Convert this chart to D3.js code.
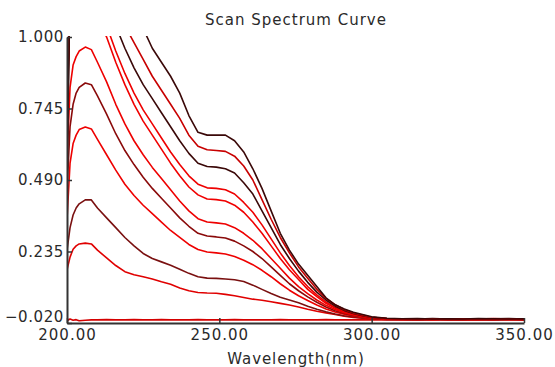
<!DOCTYPE html>
<html>
<head>
<meta charset="utf-8">
<script src="https://cdn.jsdelivr.net/npm/d3@7"></script>
<style>
  body { margin: 0; background: #fff; }
  text { font-family: "DejaVu Sans", Verdana, sans-serif; fill: #2a2a2a; }
</style>
</head>
<body>
<div id="chart"></div>
<script>
// wavelength grid (nm)
const wavelengths = [200, 201, 202, 203, 204, 206, 208, 210, 213, 216, 219, 222, 225, 228, 231, 234, 237, 240,
  243, 246, 249, 252, 255, 258, 261, 264, 267, 270, 273, 276, 279, 282, 285, 288, 291, 294, 297, 300,
  305, 310, 315, 320, 325, 330, 335, 340, 345, 350];

// absorbance of each scan (values above 1 are off scale)
const scan1 = [0.48, 1.2, 1.25, 1.3, 1.3, 1.3, 1.3, 1.3, 1.3, 1.25, 1.2, 1.12, 1.03, 0.96, 0.91, 0.86, 0.80, 0.72,
  0.66, 0.65, 0.65, 0.65, 0.63, 0.59, 0.53, 0.46, 0.38, 0.30, 0.24, 0.19, 0.15, 0.11, 0.07, 0.045, 0.03, 0.018, 0.01, 0.002,
  -0.003, -0.005, -0.004, -0.006, -0.005, -0.006, -0.004, -0.005, -0.006, -0.005];
const scan2 = [0.7, 1.15, 1.2, 1.25, 1.25, 1.25, 1.25, 1.22, 1.17, 1.11, 1.04, 0.98, 0.92, 0.86, 0.81, 0.76, 0.71, 0.65,
  0.61, 0.598, 0.595, 0.592, 0.575, 0.54, 0.49, 0.42, 0.35, 0.285, 0.23, 0.18, 0.14, 0.10, 0.068, 0.045, 0.028, 0.016, 0.008, 0.0,
  -0.004, -0.006, -0.005, -0.005, -0.007, -0.005, -0.006, -0.004, -0.006, -0.005];
const scan3 = [0.6, 1.15, 1.2, 1.2, 1.2, 1.2, 1.2, 1.17, 1.1, 1.04, 0.96, 0.89, 0.83, 0.78, 0.73, 0.68, 0.63, 0.585,
  0.55, 0.538, 0.536, 0.53, 0.515, 0.48, 0.44, 0.38, 0.32, 0.26, 0.21, 0.165, 0.125, 0.09, 0.062, 0.04, 0.025, 0.014, 0.006, 0.0,
  -0.004, -0.005, -0.006, -0.004, -0.006, -0.005, -0.006, -0.005, -0.004, -0.006];
const scan4 = [0.75, 1.1, 1.15, 1.15, 1.15, 1.15, 1.14, 1.1, 1.04, 0.95, 0.87, 0.80, 0.74, 0.69, 0.64, 0.59, 0.545, 0.505,
  0.475, 0.462, 0.46, 0.455, 0.44, 0.41, 0.375, 0.33, 0.28, 0.23, 0.185, 0.145, 0.11, 0.08, 0.055, 0.035, 0.022, 0.012, 0.005, -0.001,
  -0.005, -0.006, -0.005, -0.007, -0.006, -0.005, -0.006, -0.007, -0.005, -0.006];
const scan5 = [0.8, 1.08, 1.1, 1.1, 1.1, 1.1, 1.09, 1.06, 1.0, 0.91, 0.83, 0.76, 0.70, 0.65, 0.60, 0.55, 0.505, 0.465,
  0.437, 0.422, 0.42, 0.415, 0.40, 0.375, 0.34, 0.30, 0.255, 0.21, 0.17, 0.135, 0.10, 0.074, 0.05, 0.033, 0.02, 0.011, 0.004, -0.002,
  -0.005, -0.006, -0.007, -0.005, -0.006, -0.006, -0.005, -0.006, -0.007, -0.006];
const scan6 = [0.55, 0.82, 0.9, 0.93, 0.95, 0.964, 0.955, 0.91, 0.84, 0.76, 0.69, 0.63, 0.58, 0.535, 0.495, 0.455, 0.415, 0.38,
  0.352, 0.34, 0.337, 0.333, 0.32, 0.30, 0.275, 0.245, 0.21, 0.175, 0.14, 0.11, 0.085, 0.062, 0.043, 0.028, 0.017, 0.009, 0.003, -0.002,
  -0.005, -0.006, -0.006, -0.007, -0.006, -0.006, -0.007, -0.006, -0.006, -0.007];
const scan7 = [0.45, 0.68, 0.76, 0.80, 0.82, 0.836, 0.83, 0.79, 0.725, 0.655, 0.595, 0.545, 0.50, 0.46, 0.425, 0.39, 0.355, 0.325,
  0.30, 0.29, 0.287, 0.283, 0.272, 0.255, 0.235, 0.21, 0.18, 0.15, 0.12, 0.095, 0.073, 0.054, 0.037, 0.024, 0.014, 0.007, 0.002, -0.003,
  -0.006, -0.006, -0.007, -0.006, -0.007, -0.007, -0.006, -0.007, -0.006, -0.007];
const scan8 = [0.35, 0.55, 0.62, 0.65, 0.67, 0.679, 0.672, 0.635, 0.58, 0.525, 0.475, 0.435, 0.40, 0.37, 0.34, 0.31, 0.285, 0.26,
  0.242, 0.233, 0.23, 0.226, 0.217, 0.204, 0.188, 0.168, 0.145, 0.12, 0.097, 0.077, 0.06, 0.044, 0.03, 0.019, 0.011, 0.005, 0.0, -0.004,
  -0.006, -0.007, -0.007, -0.006, -0.007, -0.008, -0.007, -0.007, -0.006, -0.007];
const scan9 = [0.24, 0.32, 0.365, 0.39, 0.405, 0.419, 0.419, 0.39, 0.355, 0.32, 0.285, 0.255, 0.228, 0.21, 0.198, 0.186, 0.172, 0.157,
  0.145, 0.14, 0.139, 0.137, 0.134, 0.128, 0.115, 0.10, 0.085, 0.072, 0.062, 0.052, 0.04, 0.029, 0.02, 0.012, 0.006, 0.002, -0.002, -0.005,
  -0.007, -0.007, -0.008, -0.007, -0.007, -0.008, -0.007, -0.008, -0.007, -0.008];
const scan10 = [0.17, 0.215, 0.243, 0.255, 0.262, 0.265, 0.262, 0.24, 0.212, 0.185, 0.163, 0.152, 0.145, 0.137, 0.127, 0.118, 0.105, 0.095,
  0.089, 0.087, 0.086, 0.082, 0.077, 0.071, 0.065, 0.061, 0.056, 0.05, 0.044, 0.037, 0.029, 0.022, 0.016, 0.01, 0.004, 0.0, -0.003, -0.005,
  -0.007, -0.008, -0.008, -0.008, -0.007, -0.008, -0.008, -0.008, -0.007, -0.008];
const scan11 = [-0.012, -0.006, -0.01, -0.008, -0.012, -0.01, -0.009, -0.009, -0.008, -0.009, -0.009, -0.008, -0.009, -0.009, -0.008, -0.009, -0.009, -0.009,
  -0.008, -0.009, -0.009, -0.009, -0.008, -0.009, -0.009, -0.009, -0.009, -0.008, -0.009, -0.009, -0.009, -0.009, -0.008, -0.009, -0.009, -0.009, -0.009, -0.009,
  -0.009, -0.009, -0.009, -0.009, -0.009, -0.009, -0.009, -0.009, -0.009, -0.009];

const scans = [scan11, scan10, scan9, scan8, scan7, scan6, scan5, scan4, scan3, scan2, scan1];
const scanColors = ['#d40000', '#e00000', '#7a1010', '#ee0000', '#8a0a0a', '#ee0000', '#f00000', '#ee0000', '#3a0808', '#c80000', '#3a0808'];

const xTicks = [200, 250, 300, 350];
const yTicks = [-0.020, 0.235, 0.490, 0.745, 1.000];

const W = 555, H = 367;
const plotLeft = 67, plotRight = 524, plotTop = 37, plotBottom = 323;

const svg = d3.select('#chart').append('svg')
  .attr('width', W)
  .attr('height', H);

const x = d3.scaleLinear().domain([200, 350]).range([plotLeft, plotRight]);
const y = d3.scaleLinear().domain([-0.020, 1.000]).range([plotBottom, plotTop]);

svg.append('clipPath').attr('id', 'plot')
  .append('rect')
  .attr('x', plotLeft).attr('y', plotTop - 1)
  .attr('width', plotRight - plotLeft).attr('height', plotBottom - plotTop + 1);

// curves
const line = d3.line()
  .x((d, i) => x(wavelengths[i]))
  .y(d => y(d));

svg.append('g')
  .attr('clip-path', 'url(#plot)')
  .selectAll('path')
  .data(scans)
  .join('path')
  .attr('d', line)
  .attr('fill', 'none')
  .attr('stroke', (d, i) => scanColors[i])
  .attr('stroke-width', 1.6)
  .attr('stroke-linejoin', 'round');

// x axis
const xAxis = svg.append('g')
  .attr('transform', 'translate(0,' + plotBottom + ')')
  .call(d3.axisBottom(x).tickValues(xTicks).tickFormat(d3.format('.2f'))
    .tickSizeInner(-5).tickSizeOuter(0).tickPadding(6));
xAxis.select('.domain').attr('stroke', '#333').attr('stroke-width', 2);
xAxis.selectAll('.tick line').attr('stroke', '#333').attr('stroke-width', 1.5);
xAxis.selectAll('text')
  .attr('font-size', 15)
  .attr('letter-spacing', 1)
  .attr('fill', '#2a2a2a');

// y axis
const yAxis = svg.append('g')
  .attr('transform', 'translate(' + plotLeft + ',0)')
  .call(d3.axisLeft(y).tickValues(yTicks).tickFormat(d3.format('.3f'))
    .tickSizeInner(-5).tickSizeOuter(0).tickPadding(3));
yAxis.select('.domain').attr('stroke', '#333').attr('stroke-width', 2);
yAxis.selectAll('.tick line').attr('stroke', '#333').attr('stroke-width', 1.5);
yAxis.selectAll('text')
  .attr('font-size', 15)
  .attr('letter-spacing', 0.6)
  .attr('fill', '#2a2a2a')
  .attr('dy', d => d === yTicks[0] ? '-0.1em' : '0.32em');

// titles
svg.append('text')
  .attr('x', 296).attr('y', 25)
  .attr('text-anchor', 'middle')
  .attr('font-size', 15)
  .attr('letter-spacing', 1)
  .text('Scan Spectrum Curve');

svg.append('text')
  .attr('x', 296).attr('y', 364)
  .attr('text-anchor', 'middle')
  .attr('font-size', 15)
  .attr('letter-spacing', 0.9)
  .text('Wavelength(nm)');
</script>
</body>
</html>
